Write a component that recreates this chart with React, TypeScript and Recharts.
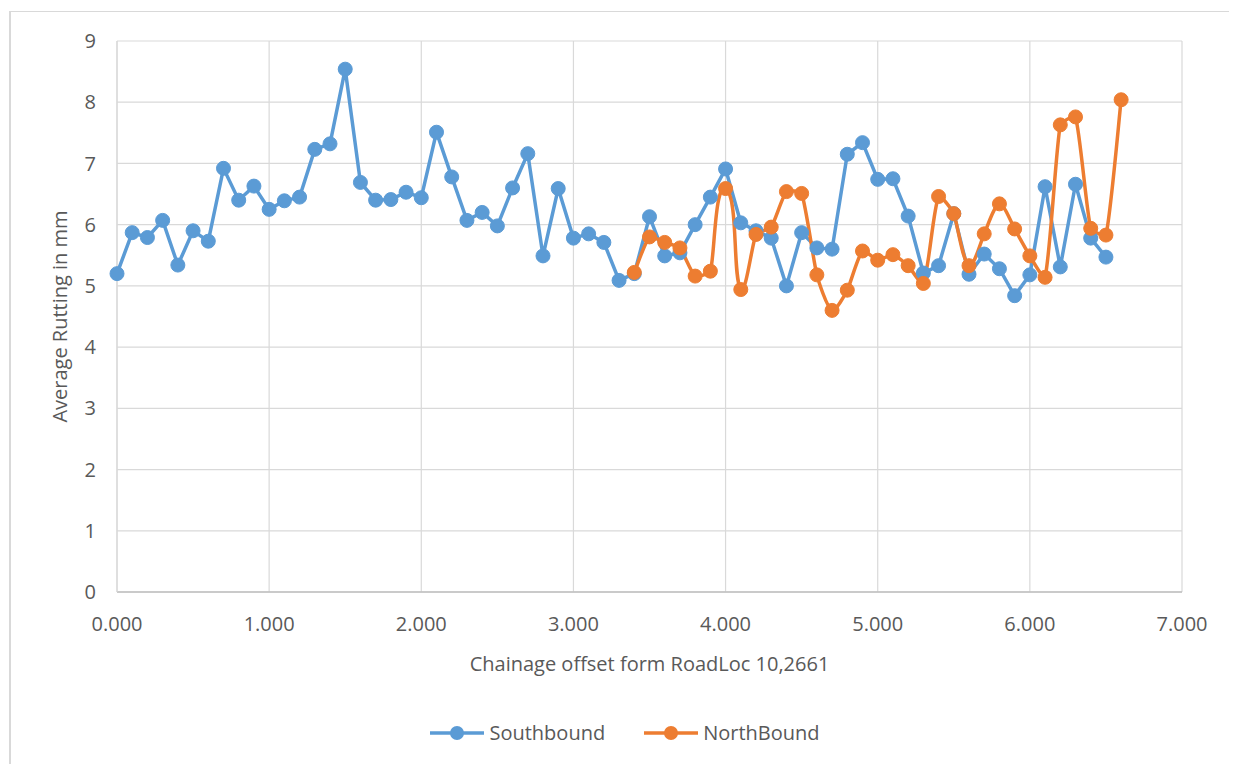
import React from 'react';
import { LineChart, Line, XAxis, YAxis, CartesianGrid } from 'recharts';

// Chainage (km) and average rutting (mm) per direction
const southChainage = [
  0.0, 0.1, 0.2, 0.3, 0.4, 0.5, 0.6, 0.7, 0.8, 0.9,
  1.0, 1.1, 1.2, 1.3, 1.4, 1.5, 1.6, 1.7, 1.8, 1.9,
  2.0, 2.1, 2.2, 2.3, 2.4, 2.5, 2.6, 2.7, 2.8, 2.9,
  3.0, 3.1, 3.2, 3.3, 3.4, 3.5, 3.6, 3.7, 3.8, 3.9,
  4.0, 4.1, 4.2, 4.3, 4.4, 4.5, 4.6, 4.7, 4.8, 4.9,
  5.0, 5.1, 5.2, 5.3, 5.4, 5.5, 5.6, 5.7, 5.8, 5.9,
  6.0, 6.1, 6.2, 6.3, 6.4, 6.5,
];
const southbound = [
  5.20, 5.87, 5.79, 6.07, 5.34, 5.90, 5.73, 6.92, 6.40, 6.63,
  6.25, 6.39, 6.45, 7.23, 7.32, 8.54, 6.69, 6.40, 6.41, 6.53,
  6.44, 7.51, 6.78, 6.07, 6.20, 5.98, 6.60, 7.16, 5.49, 6.59,
  5.78, 5.85, 5.71, 5.09, 5.20, 6.13, 5.49, 5.54, 6.00, 6.45,
  6.91, 6.03, 5.90, 5.78, 5.00, 5.87, 5.62, 5.60, 7.15, 7.34,
  6.74, 6.75, 6.14, 5.21, 5.33, 6.18, 5.19, 5.52, 5.28, 4.84,
  5.18, 6.62, 5.31, 6.66, 5.78, 5.47,
];
const northChainage = [
  3.4, 3.5, 3.6, 3.7, 3.8, 3.9,
  4.0, 4.1, 4.2, 4.3, 4.4, 4.5, 4.6, 4.7, 4.8, 4.9,
  5.0, 5.1, 5.2, 5.3, 5.4, 5.5, 5.6, 5.7, 5.8, 5.9,
  6.0, 6.1, 6.2, 6.3, 6.4, 6.5, 6.6,
];
const northbound = [
  5.22, 5.80, 5.71, 5.62, 5.16, 5.24,
  6.59, 4.94, 5.84, 5.96, 6.54, 6.51, 5.18, 4.60, 4.93, 5.57,
  5.42, 5.51, 5.33, 5.04, 6.46, 6.18, 5.33, 5.85, 6.34, 5.93,
  5.49, 5.14, 7.63, 7.76, 5.94, 5.83, 8.04,
];
const xTicks = [0, 1, 2, 3, 4, 5, 6, 7];
const yTicks = [0, 1, 2, 3, 4, 5, 6, 7, 8, 9];

const southRows = southChainage.map((x, i) => ({ x, y: southbound[i] }));
const northRows = northChainage.map((x, i) => ({ x, y: northbound[i] }));

const BLUE = '#5B9BD5';
const ORANGE = '#ED7D31';
const TEXT = '#595959';
const GRID = '#D9D9D9';
const FONT = '"Open Sans", "DejaVu Sans", sans-serif';

// Gentle spline: tangent follows the neighbours' direction, handle length
// is a fraction of the segment it belongs to, so steep spikes stay tight.
function smoothCurve(context: any) {
  let pts: number[][] = [];
  const k = 0.15;
  const unit = (a: number[], b: number[]) => {
    const dx = b[0] - a[0];
    const dy = b[1] - a[1];
    const len = Math.hypot(dx, dy) || 1;
    return [dx / len, dy / len];
  };
  return {
    areaStart() {},
    areaEnd() {},
    lineStart() {
      pts = [];
    },
    lineEnd() {
      const n = pts.length;
      if (!n) return;
      context.moveTo(pts[0][0], pts[0][1]);
      for (let i = 0; i < n - 1; i++) {
        const p0 = pts[Math.max(i - 1, 0)];
        const p1 = pts[i];
        const p2 = pts[i + 1];
        const p3 = pts[Math.min(i + 2, n - 1)];
        const seg = Math.hypot(p2[0] - p1[0], p2[1] - p1[1]);
        const d1 = unit(p0, p2);
        const d2 = unit(p1, p3);
        context.bezierCurveTo(
          p1[0] + d1[0] * seg * k,
          p1[1] + d1[1] * seg * k,
          p2[0] - d2[0] * seg * k,
          p2[1] - d2[1] * seg * k,
          p2[0],
          p2[1]
        );
      }
    },
    point(x: number, y: number) {
      pts.push([+x, +y]);
    },
  };
}

const XTitle = (props: any) => {
  const vb = props.viewBox || {};
  return (
    <text
      x={vb.x + vb.width / 2}
      y={vb.y + 79}
      textAnchor="middle"
      fill={TEXT}
      fontSize={20}
      fontFamily={FONT}
    >
      Chainage offset form RoadLoc 10,2661
    </text>
  );
};

const YTitle = (props: any) => {
  const vb = props.viewBox || {};
  const x = vb.x + 50;
  const y = vb.y + vb.height / 2;
  return (
    <text
      x={x}
      y={y}
      transform={`rotate(-90, ${x}, ${y})`}
      textAnchor="middle"
      fill={TEXT}
      fontSize={20}
      fontFamily={FONT}
    >
      Average Rutting in mm
    </text>
  );
};

const legendItems = [
  { name: 'Southbound', color: BLUE },
  { name: 'NorthBound', color: ORANGE },
];

export default function App() {
  return (
    <div
      style={{
        position: 'relative',
        width: 1237,
        height: 764,
        margin: '-8px 0 0 -8px',
        overflow: 'hidden',
        background: '#fff',
      }}
    >
      <div
        style={{
          position: 'absolute',
          left: 9,
          top: 11,
          width: 1300,
          height: 800,
          borderTop: '1px solid #D9D9D9',
          borderLeft: '2px solid #D9D9D9',
        }}
      />
      <div style={{ position: 'absolute', left: 0, top: 0 }}>
        <LineChart width={1237} height={764} margin={{ top: 41, right: 55, bottom: 92, left: 17 }}>
          <CartesianGrid stroke={GRID} strokeWidth={1.2} />
          <XAxis
            dataKey="x"
            type="number"
            domain={[0, 7]}
            ticks={xTicks}
            tickFormatter={(v: number) => v.toFixed(3)}
            height={80}
            axisLine={{ stroke: '#BFBFBF', strokeWidth: 1.3 }}
            tickLine={false}
            tickSize={0}
            tickMargin={25}
            tick={{ fill: TEXT, fontSize: 20, fontFamily: FONT }}
            label={<XTitle />}
          />
          <YAxis
            type="number"
            domain={[0, 9]}
            ticks={yTicks}
            width={100}
            axisLine={{ stroke: GRID, strokeWidth: 1.2 }}
            tickLine={false}
            tickSize={0}
            tickMargin={21}
            tick={{ fill: TEXT, fontSize: 20, fontFamily: FONT }}
            label={<YTitle />}
          />
          <Line
            data={southRows}
            dataKey="y"
            name="Southbound"
            type="linear"
            stroke={BLUE}
            strokeWidth={3.5}
            dot={{ r: 7, fill: BLUE, stroke: BLUE, strokeWidth: 1 }}
            activeDot={false}
            isAnimationActive={false}
          />
          <Line
            data={northRows}
            dataKey="y"
            name="NorthBound"
            type={smoothCurve as any}
            stroke={ORANGE}
            strokeWidth={3.5}
            dot={{ r: 7, fill: ORANGE, stroke: ORANGE, strokeWidth: 1 }}
            activeDot={false}
            isAnimationActive={false}
          />
        </LineChart>
      </div>
      <div
        style={{
          position: 'absolute',
          left: 0,
          top: 720,
          width: 1250,
          height: 26,
          display: 'flex',
          justifyContent: 'center',
          alignItems: 'center',
          fontFamily: FONT,
          fontSize: 20,
          color: TEXT,
        }}
      >
        {legendItems.map((it, i) => (
          <div
            key={it.name}
            style={{ display: 'flex', alignItems: 'center', marginLeft: i ? 39 : 0 }}
          >
            <svg width={54} height={16}>
              <line x1={0} y1={8} x2={54} y2={8} stroke={it.color} strokeWidth={3.5} />
              <circle cx={27} cy={8} r={7} fill={it.color} />
            </svg>
            <span style={{ marginLeft: 5, lineHeight: '26px' }}>{it.name}</span>
          </div>
        ))}
      </div>
    </div>
  );
}
